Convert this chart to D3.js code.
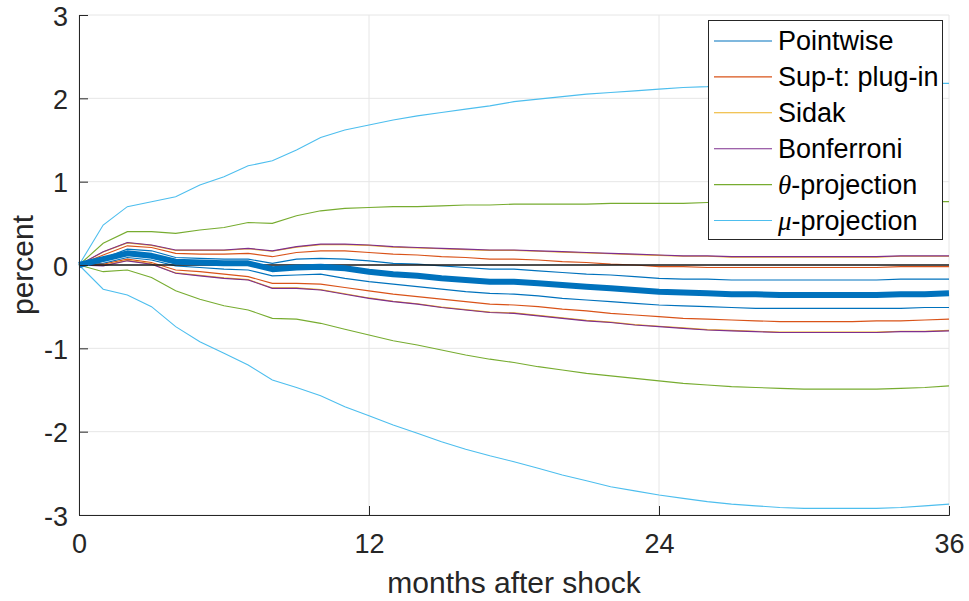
<!DOCTYPE html>
<html lang="en">
<head>
<meta charset="UTF-8">
<title>Impulse response with confidence bands</title>
<script src="https://d3js.org/d3.v7.min.js"></script>
<style>
  body { margin: 0; background: #fff; }
  svg { font-family: "Liberation Sans", Arial, Helvetica, sans-serif; }
  .tick-label { font-size: 27px; fill: #262626; }
  .axis-title { font-size: 30px; fill: #262626; }
  .legend-text { font-size: 27px; fill: #000; }
</style>
</head>
<body>
<div id="chart"></div>
<script>
// months after shock
const months = [0,1,2,3,4,5,6,7,8,9,10,11,12,13,14,15,16,17,18,19,20,21,22,23,24,25,26,27,28,29,30,31,32,33,34,35,36];
const xTicks = [0, 12, 24, 36];
const yTicks = [-3, -2, -1, 0, 1, 2, 3];

// point estimate (thick line)
const pointEst = [0,0.07,0.14,0.11,0.04,0.03,0.02,0.02,-0.05,-0.03,-0.02,-0.04,-0.08,-0.11,-0.13,-0.16,-0.18,-0.20,-0.20,-0.22,-0.24,-0.26,-0.28,-0.30,-0.32,-0.33,-0.34,-0.35,-0.35,-0.36,-0.36,-0.36,-0.36,-0.36,-0.35,-0.35,-0.34];

// bands: lower / upper
const pwLo = [0,0.02,0.09,0.06,-0.01,-0.03,-0.05,-0.06,-0.13,-0.12,-0.11,-0.16,-0.20,-0.23,-0.26,-0.29,-0.32,-0.34,-0.35,-0.37,-0.40,-0.42,-0.44,-0.46,-0.48,-0.49,-0.50,-0.51,-0.52,-0.52,-0.52,-0.52,-0.52,-0.52,-0.52,-0.51,-0.51];
const pwHi = [0,0.08,0.19,0.17,0.09,0.08,0.07,0.07,0.02,0.07,0.08,0.07,0.05,0.02,0.01,-0.01,-0.03,-0.05,-0.05,-0.07,-0.09,-0.11,-0.12,-0.14,-0.16,-0.17,-0.17,-0.18,-0.18,-0.18,-0.18,-0.18,-0.18,-0.18,-0.17,-0.17,-0.17];

const suptLo = [0,0.01,0.07,0.03,-0.06,-0.08,-0.11,-0.14,-0.22,-0.22,-0.23,-0.27,-0.31,-0.35,-0.38,-0.41,-0.44,-0.47,-0.48,-0.50,-0.53,-0.55,-0.58,-0.60,-0.62,-0.64,-0.65,-0.66,-0.67,-0.68,-0.68,-0.68,-0.68,-0.67,-0.67,-0.66,-0.65];
const suptHi = [0,0.12,0.23,0.21,0.14,0.13,0.13,0.14,0.10,0.15,0.17,0.17,0.15,0.13,0.12,0.10,0.09,0.07,0.07,0.06,0.04,0.03,0.01,0.00,-0.02,-0.02,-0.03,-0.03,-0.03,-0.03,-0.03,-0.03,-0.03,-0.03,-0.02,-0.02,-0.02];

const sidakLo = [0,-0.005,0.055,0.015,-0.095,-0.125,-0.155,-0.175,-0.275,-0.275,-0.295,-0.345,-0.395,-0.435,-0.465,-0.505,-0.535,-0.565,-0.575,-0.605,-0.635,-0.665,-0.685,-0.715,-0.735,-0.755,-0.775,-0.785,-0.795,-0.805,-0.805,-0.805,-0.805,-0.805,-0.795,-0.795,-0.785];
const sidakHi = [0,0.155,0.265,0.235,0.175,0.175,0.175,0.195,0.165,0.215,0.245,0.245,0.235,0.215,0.205,0.195,0.185,0.175,0.175,0.165,0.155,0.145,0.135,0.125,0.115,0.105,0.105,0.095,0.095,0.095,0.095,0.095,0.095,0.095,0.105,0.105,0.105];

const bonfLo = [0,-0.01,0.05,0.01,-0.10,-0.13,-0.16,-0.18,-0.28,-0.28,-0.30,-0.35,-0.40,-0.44,-0.47,-0.51,-0.54,-0.57,-0.58,-0.61,-0.64,-0.67,-0.69,-0.72,-0.74,-0.76,-0.78,-0.79,-0.80,-0.81,-0.81,-0.81,-0.81,-0.81,-0.80,-0.80,-0.79];
const bonfHi = [0,0.16,0.27,0.24,0.18,0.18,0.18,0.20,0.17,0.22,0.25,0.25,0.24,0.22,0.21,0.20,0.19,0.18,0.18,0.17,0.16,0.15,0.14,0.13,0.12,0.11,0.11,0.10,0.10,0.10,0.10,0.10,0.10,0.10,0.11,0.11,0.11];

const thetaLo = [0,-0.08,-0.06,-0.15,-0.31,-0.41,-0.49,-0.54,-0.64,-0.65,-0.70,-0.77,-0.84,-0.91,-0.96,-1.02,-1.08,-1.13,-1.17,-1.22,-1.26,-1.30,-1.33,-1.36,-1.39,-1.42,-1.44,-1.46,-1.47,-1.48,-1.49,-1.49,-1.49,-1.49,-1.48,-1.47,-1.45];
const thetaHi = [0,0.26,0.40,0.40,0.38,0.42,0.45,0.51,0.50,0.59,0.65,0.68,0.69,0.70,0.70,0.71,0.72,0.72,0.73,0.73,0.73,0.73,0.74,0.74,0.74,0.74,0.75,0.75,0.75,0.75,0.75,0.75,0.75,0.75,0.76,0.76,0.76];

const muLo = [0,-0.29,-0.36,-0.50,-0.74,-0.92,-1.06,-1.20,-1.38,-1.47,-1.57,-1.70,-1.81,-1.92,-2.02,-2.12,-2.21,-2.29,-2.36,-2.44,-2.52,-2.59,-2.66,-2.71,-2.76,-2.80,-2.84,-2.87,-2.89,-2.91,-2.92,-2.92,-2.92,-2.92,-2.91,-2.89,-2.87];
const muHi = [0,0.48,0.70,0.76,0.82,0.96,1.06,1.19,1.25,1.38,1.53,1.62,1.68,1.74,1.79,1.83,1.87,1.91,1.96,1.99,2.02,2.05,2.07,2.09,2.11,2.13,2.14,2.16,2.17,2.18,2.19,2.19,2.19,2.19,2.19,2.18,2.18];

const legendNames = ["Pointwise", "Sup-t: plug-in", "Sidak", "Bonferroni", "θ-projection", "μ-projection"];
const colors = ["#0072BD", "#D95319", "#EDB120", "#7E2F8E", "#77AC30", "#4DBEEE"];

const W = 969, H = 601;
const plotLeft = 79, plotRight = 949, plotTop = 15, plotBottom = 515;

const svg = d3.select("#chart").append("svg")
  .attr("width", W).attr("height", H);

const x = d3.scaleLinear().domain([0, 36]).range([plotLeft, plotRight]);
const y = d3.scaleLinear().domain([-3, 3]).range([plotBottom, plotTop]);

// grid
svg.append("g").selectAll("line").data(xTicks).enter().append("line")
  .attr("x1", d => x(d)).attr("x2", d => x(d))
  .attr("y1", plotTop).attr("y2", plotBottom)
  .attr("stroke", "#e6e6e6").attr("stroke-width", 1);
svg.append("g").selectAll("line").data(yTicks).enter().append("line")
  .attr("x1", plotLeft).attr("x2", plotRight)
  .attr("y1", d => y(d)).attr("y2", d => y(d))
  .attr("stroke", "#e6e6e6").attr("stroke-width", 1);

// bands
const line = d3.line().x((d, i) => x(months[i])).y(d => y(d));
const bands = [[pwLo, pwHi], [suptLo, suptHi], [sidakLo, sidakHi], [bonfLo, bonfHi], [thetaLo, thetaHi], [muLo, muHi]];
bands.forEach((b, k) => {
  b.forEach(s => {
    svg.append("path").datum(s)
      .attr("d", line)
      .attr("fill", "none")
      .attr("stroke", colors[k])
      .attr("stroke-width", 1.1);
  });
});

// zero line
svg.append("line")
  .attr("x1", x(0)).attr("x2", x(36))
  .attr("y1", y(0)).attr("y2", y(0))
  .attr("stroke", "#1a1a1a").attr("stroke-width", 1.3);

// point estimate
svg.append("path").datum(pointEst)
  .attr("d", line)
  .attr("fill", "none")
  .attr("stroke", "#0072BD")
  .attr("stroke-width", 6)
  .attr("stroke-linejoin", "round");

// axes (plain hyphen for negatives, like the original)
const fmt = d => String(d);
const xAxis = svg.append("g").attr("transform", `translate(0,${plotBottom})`)
  .call(d3.axisBottom(x).tickValues(xTicks).tickFormat(fmt).tickSize(-9));
const yAxis = svg.append("g").attr("transform", `translate(${plotLeft},0)`)
  .call(d3.axisLeft(y).tickValues(yTicks).tickFormat(fmt).tickSize(-9));
[xAxis, yAxis].forEach(g => {
  g.attr("font-size", null).attr("font-family", null);
  g.select(".domain").attr("stroke", "#262626");
  g.selectAll(".tick line").attr("stroke", "#262626");
  g.selectAll(".tick text").attr("class", "tick-label");
});
xAxis.selectAll(".tick text").attr("dy", null).attr("y", 38);
yAxis.selectAll(".tick text").attr("dy", null).attr("y", 10).attr("x", -11);

// axis titles
svg.append("text").attr("class", "axis-title")
  .attr("x", (plotLeft + plotRight) / 2).attr("y", 593)
  .attr("text-anchor", "middle").text("months after shock");
svg.append("text").attr("class", "axis-title")
  .attr("transform", `translate(33,${(plotTop + plotBottom) / 2}) rotate(-90)`)
  .attr("text-anchor", "middle").text("percent");

// legend
const lg = svg.append("g");
lg.append("rect").attr("x", 708.5).attr("y", 20.5).attr("width", 234).attr("height", 219)
  .attr("fill", "#fff").attr("stroke", "#262626").attr("stroke-width", 1);
legendNames.forEach((name, i) => {
  const by = 50 + 35.9 * i;
  lg.append("line").attr("x1", 714).attr("x2", 772)
    .attr("y1", by - 9).attr("y2", by - 9)
    .attr("stroke", colors[i]).attr("stroke-width", 1.1);
  const t = lg.append("text").attr("class", "legend-text").attr("x", 778).attr("y", by);
  if (i >= 4) {
    t.append("tspan").attr("font-family", "'Liberation Serif', 'Times New Roman', serif")
      .attr("font-style", "italic").text(name[0]);
    t.append("tspan").text(name.slice(1));
  } else {
    t.text(name);
  }
});
</script>
</body>
</html>
